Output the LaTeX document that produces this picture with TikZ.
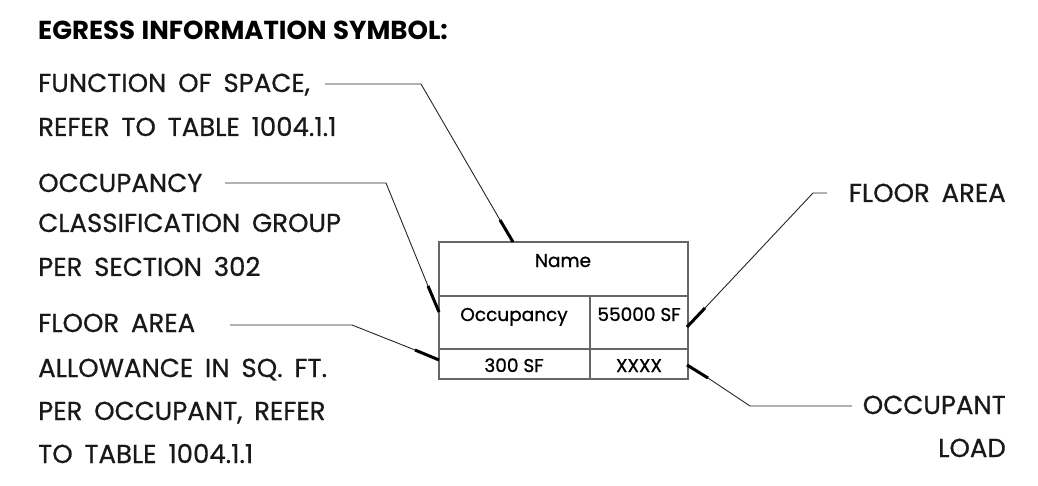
\documentclass[tikz,border=0pt]{standalone}
\usepackage{fontspec}
\setmainfont{Poppins}
\newfontfamily\medfont{Poppins}[FakeBold=0.6,WordSpace=1.7]
\newfontfamily\cellfont{Poppins}[FakeBold=0.9]
\newfontfamily\ttlfont{Poppins}[WordSpace=1.2]
\begin{document}
\begin{tikzpicture}[x=1pt,y=-1pt,
  lbl/.style={anchor=base west,inner sep=0pt,font=\medfont\fontsize{26}{26}\selectfont,text=black!90},
  lblr/.style={anchor=base east,inner sep=0pt,font=\medfont\fontsize{26}{26}\selectfont,text=black!90},
  ttl/.style={anchor=base west,inner sep=0pt,font=\ttlfont\fontsize{26}{26}\selectfont\bfseries},
  cell/.style={anchor=base,inner sep=0pt,font=\cellfont\fontsize{18.5}{18.5}\selectfont},
  leader/.style={draw=black!85,line width=0.9pt},
  tip/.style={draw=black,line width=3pt},
  grid/.style={draw=black!60,line width=1.4pt}]
\useasboundingbox (0,0) rectangle (1038,486);
\fill[white] (0,0) rectangle (1038,486);

% title and left texts
\node[ttl] (title) at (38,40) {EGRESS INFORMATION SYMBOL:};
\node[lbl] (f1) at (38,92) {FUNCTION OF SPACE,};
\node[lbl] (f2) at (38,136) {REFER TO TABLE 1004.1.1};
\node[lbl] (o1) at (38,192) {OCCUPANCY};
\node[lbl] (o2) at (38,232) {CLASSIFICATION GROUP};
\node[lbl] (o3) at (38,276) {PER SECTION 302};
\node[lbl] (a1) at (38,332) {FLOOR AREA};
\node[lbl] (a2) at (38,377) {ALLOWANCE IN SQ. FT.};
\node[lbl] (a3) at (38,420) {PER OCCUPANT, REFER};
\node[lbl] (a4) at (38,463) {TO TABLE 1004.1.1};
% right texts
\node[lblr] (r1) at (1006,202) {FLOOR AREA};
\node[lblr] (r2) at (1006,414) {OCCUPANT};
\node[lblr] (r3) at (1006,457) {LOAD};

% table
\coordinate (tTL) at (439,242);
\coordinate (tBR) at (688,379);
\draw[grid] (tTL) rectangle (tBR);
\draw[grid] (439,296) -- (688,296);
\draw[grid] (439,349) -- (688,349);
\draw[grid] (590,296) -- (590,379);
\node[cell] (name) at (563,267) {Name};
\node[cell] (occ) at (514,321) {Occupancy};
\node[cell] (sf) at (639,321) {55000 SF};
\node[cell] (al) at (514,372) {300 SF};
\node[cell] (ld) at (639,372) {XXXX};

% leader coordinates
\coordinate (l1s) at (325,84);
\coordinate (l1b) at (421,84);
\coordinate (l1t) at (500,220);
\coordinate (l1e) at (513,242);
\coordinate (l2s) at (225,183);
\coordinate (l2b) at (386,183);
\coordinate (l2t) at (428,286);
\coordinate (l2e) at (439,312);
\coordinate (l3s) at (230,325);
\coordinate (l3b) at (352,325);
\coordinate (l3t) at (415,350);
\coordinate (l3e) at (439,360);
\coordinate (l4s) at (827,193);
\coordinate (l4b) at (813,193);
\coordinate (l4t) at (705,308);
\coordinate (l4e) at (687,327);
\coordinate (l5s) at (852,406);
\coordinate (l5b) at (750,406);
\coordinate (l5t) at (708,378);
\coordinate (l5e) at (687,365);

\draw[leader] (l1s) -- (l1b) -- (l1t);
\draw[tip] (l1t) -- (l1e);
\draw[leader] (l2s) -- (l2b) -- (l2t);
\draw[tip] (l2t) -- (l2e);
\draw[leader] (l3s) -- (l3b) -- (l3t);
\draw[tip] (l3t) -- (l3e);
\draw[leader] (l4s) -- (l4b) -- (l4t);
\draw[tip] (l4t) -- (l4e);
\draw[leader] (l5s) -- (l5b) -- (l5t);
\draw[tip] (l5t) -- (l5e);
\end{tikzpicture}
\end{document}
